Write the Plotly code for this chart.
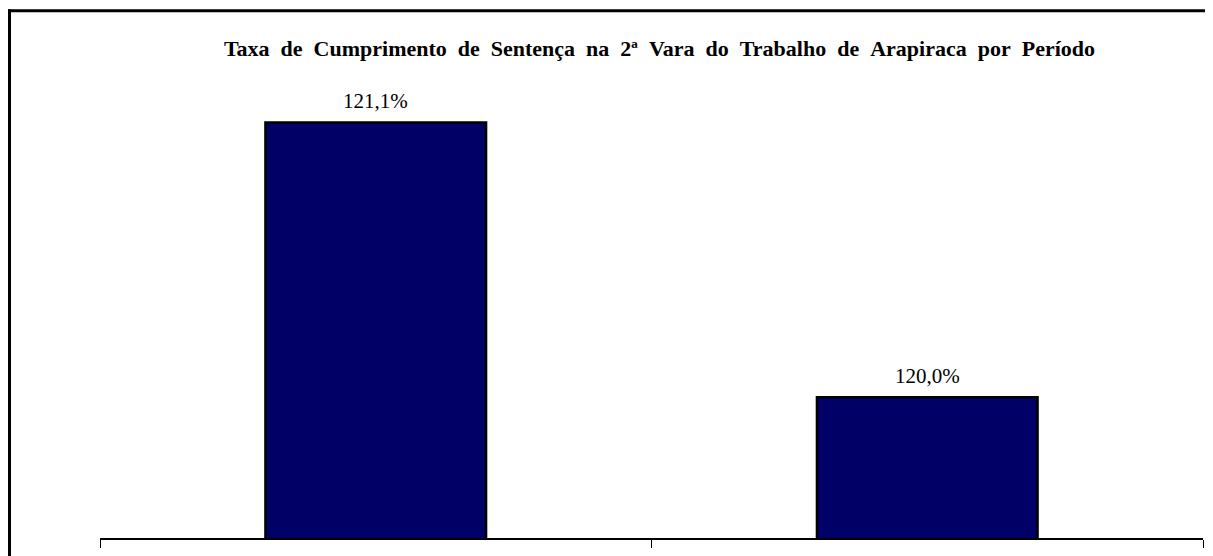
import plotly.graph_objects as go

categories = ["Período 1", "Período 2"]
values = [121.1, 120.0]
labels = ["121,1%", "120,0%"]
title_text = "Taxa de Cumprimento de Sentença na 2ª Vara do Trabalho de Arapiraca por Período"

# page has an 8px body margin, so the figure is sized to fit the window
W, H = 1205, 548
L, R, T, B = 92, 10, 52, 16
plot_w = W - L - R
plot_h = H - T - B
ymin = 119.437
ppu = 250.9
ymax = ymin + plot_h / ppu

fig = go.Figure()
fig.add_trace(go.Bar(
    x=categories, y=values,
    marker=dict(color="#000066", line=dict(color="#000000", width=2.5)),
    width=0.4,
    hoverinfo="skip",
))

for c, v, t in zip(categories, values, labels):
    fig.add_annotation(x=c, y=v, text=t, showarrow=False, yanchor="bottom", yshift=7,
                       font=dict(family="Liberation Serif", size=21, color="#000000"))

def px_x(p):
    return (p - L) / plot_w

def px_y(p):
    return 1 - (p - T) / plot_h

# chart border (left and top)
fig.add_shape(type="line", xref="paper", yref="paper", x0=px_x(1.5), x1=px_x(1.5), y0=px_y(1), y1=px_y(560),
              line=dict(color="#000000", width=3))
fig.add_shape(type="line", xref="paper", yref="paper", x0=px_x(0), x1=px_x(1220), y0=px_y(2.5), y1=px_y(2.5),
              line=dict(color="#000000", width=3))

spaced_title = title_text.replace(" ", "\u00a0\u00a0")

fig.update_layout(
    width=W, height=H,
    margin=dict(l=L, r=R, t=T, b=B),
    paper_bgcolor="#ffffff", plot_bgcolor="#ffffff",
    showlegend=False,
    title=dict(text="<b>" + spaced_title + "</b>",
               x=651.5 / W, xanchor="center", xref="container",
               y=1 - 40 / H, yanchor="middle", yref="container",
               font=dict(family="Liberation Serif", size=22, color="#000000")),
    xaxis=dict(type="category", showgrid=False, showline=True, linecolor="#000000", linewidth=1.5,
               ticks="outside", tickson="boundaries", ticklen=8, tickcolor="#000000", tickwidth=1,
               showticklabels=False, fixedrange=True),
    yaxis=dict(range=[ymin, ymax], visible=False, showgrid=False, fixedrange=True),
)

fig.write_html("out.html")
